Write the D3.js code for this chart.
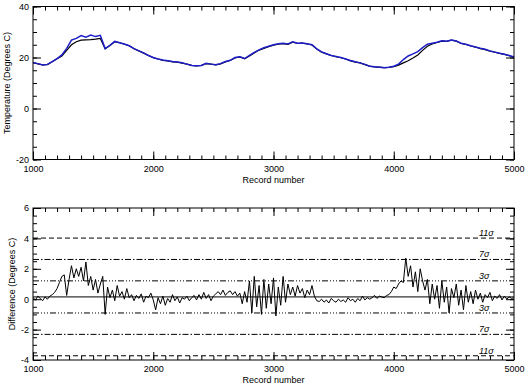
<!DOCTYPE html>
<html>
<head>
<meta charset="utf-8">
<script src="https://cdn.jsdelivr.net/npm/d3@7"></script>
<style>
  body { margin: 0; background: #fff; }
  svg { display: block; font-family: "Liberation Sans", Arial, sans-serif; }
</style>
</head>
<body>
<svg id="chart" width="526" height="386"></svg>
<script>
// record numbers for the temperature traces (every 40 records)
const tempRecords = d3.range(1000, 5001, 40)

// blue trace (drawn on top)
const tempBlue = [
  18.0, 17.6, 17.1, 17.3, 18.4, 19.6, 21.0, 23.6, 26.8, 27.5,
  28.6, 28.0, 28.8, 28.2, 28.7, 23.5, 24.8, 26.3, 25.8, 25.3,
  24.6, 23.5, 22.6, 21.8, 20.8, 20.0, 19.4, 19.0, 18.7, 18.4,
  18.2, 17.9, 17.4, 16.9, 16.8, 16.9, 17.7, 17.4, 17.2, 17.6,
  18.4, 18.9, 20.0, 20.3, 19.6, 20.8, 22.0, 23.0, 23.8, 24.4,
  25.0, 25.4, 25.6, 25.3, 26.2, 25.6, 25.7, 25.4, 25.0, 23.4,
  22.2, 21.5, 20.8, 20.4, 20.0, 19.4, 18.8, 18.3, 17.9, 17.3,
  16.6, 16.4, 16.2, 16.0, 16.2, 16.6, 17.4, 19.2, 20.6, 21.4,
  22.3, 23.9, 25.2, 25.6, 26.0, 26.6, 26.4, 26.9, 26.5, 25.6,
  25.2, 24.6, 24.1, 23.6, 23.2, 22.6, 22.1, 21.7, 21.3, 20.8,
  20.2
]

// black trace (underneath)
const tempBlack = [
  18.0, 17.5, 17.1, 17.2, 18.3, 19.5, 20.6, 22.8, 25.0, 26.2,
  26.8, 26.9, 27.0, 27.2, 27.5, 23.4, 24.7, 26.2, 25.8, 25.2,
  24.6, 23.4, 22.6, 21.7, 20.8, 19.9, 19.4, 18.9, 18.7, 18.3,
  18.2, 17.8, 17.4, 16.9, 16.7, 16.9, 17.6, 17.4, 17.1, 17.5,
  18.3, 18.8, 19.8, 20.2, 19.5, 20.6, 21.8, 22.9, 23.6, 24.2,
  24.8, 25.2, 25.4, 25.1, 26.0, 25.5, 25.6, 25.3, 24.9, 23.3,
  22.1, 21.4, 20.8, 20.3, 19.9, 19.4, 18.7, 18.2, 17.9, 17.2,
  16.6, 16.3, 16.2, 16.0, 16.1, 16.4, 17.0, 17.9, 18.7, 19.8,
  21.0, 22.8, 24.4, 25.3, 25.9, 26.4, 26.3, 26.8, 26.4, 25.5,
  25.1, 24.5, 24.1, 23.5, 23.1, 22.5, 22.1, 21.6, 21.2, 20.7,
  20.1
]

// difference (every 20 records)
const diffRecords = d3.range(1000, 5001, 20)
const diffValues = [
  0.1, -0.05, 0.2, 0.05, -0.1, 0.15, 0.0, 0.2,
  0.3, 0.45, 0.7, 1.1, 1.5,
  1.6, 0.25, 1.3,
  2.2, 1.4, 2.0, 1.5, 2.1, 1.2, 2.45,
  0.9, 1.5, 0.6, 1.3, 0.4, 1.0, 1.5,
  -1.0,
  0.8, 0.1, 0.6, -0.1, 0.9, 0.2, 0.5, 0.0, 0.7, 0.1,
  0.3, -0.1, 0.25, 0.05, 0.35, -0.2, 0.2, 0.1, 0.4, -0.05,
  -0.7, 0.1, -0.3, 0.2, -0.4, 0.05, -0.2, 0.3, -0.1, 0.15, -0.25, 0.1, 0.0, 0.2, -0.1,
  0.1, 0.25, -0.05, 0.3, 0.0, 0.45, 0.05, 0.3, -0.1, 0.2,
  0.35, 0.5, 0.3, 0.6, 0.25, 0.45, 0.55, 0.3, 0.5, 0.2, 0.4, -0.3,
  0.5, -0.2, 1.2, -0.9, 1.5, -0.5, 0.9, -1.0, 1.3, -0.6, 1.0, -0.3, 1.4, -1.1, 0.8, -0.4, 1.5, -0.2,
  1.0, 0.3, 0.8, 0.2, 0.9, 0.4, 0.7, 0.1, 0.6, 0.3, 0.9, 0.2,
  -0.1, -0.15, 0.0, -0.2, -0.05, -0.25, 0.05, -0.1, -0.2, 0.0, -0.15, -0.05, -0.2, 0.1, -0.1, 0.0, -0.2, 0.05, -0.1, 0.2, -0.05, 0.1, 0.0,
  0.1, 0.25, 0.05, 0.2, 0.15, 0.1, 0.25, 0.3,
  0.5, 0.8, 0.7, 1.0, 1.2, 1.1,
  2.7, 1.5,
  2.2, 0.8, 1.8, 0.5, 2.0, 1.2, 0.6,
  1.3, -0.3, 1.0, 0.0, 0.9, -0.6, 1.2, -0.2, 0.8, -0.9, 0.7, 0.1, 1.0, -0.4, 0.6, -0.7, 0.9,
  -0.2, 0.5, -0.3, 0.6, 0.0, 0.4, -0.2, 0.3, 0.1, 0.45, -0.1, 0.2, 0.05, 0.3, -0.05, 0.2, 0.0, 0.15, 0.05, 0.1
]

const diffMean = 0.15
const diffSigma = 0.352
const sigmaLevels = [3, 7, 11]
const sigmaDash = { 3: '6,2,1,2,1,2,1,2', 7: '6,2,1.5,2', 11: '5,3' }

const xTicks = [1000, 2000, 3000, 4000, 5000]
const tempTicks = [-20, 0, 20, 40]
const diffTicks = [-4, -2, 0, 2, 4, 6]

const svg = d3.select('#chart')
const left = 33, right = 514

const x = d3.scaleLinear().domain([1000, 5000]).range([left, right])

function frame(g, y, top, bottom, majorY, minorStep, xLabels) {
  const fs = '9px'
  // minor x ticks, top and bottom
  const minorX = d3.range(1000, 5001, 100)
  g.append('g').attr('transform', `translate(0,${bottom})`)
    .call(d3.axisBottom(x).tickValues(minorX).tickSizeInner(-4).tickSizeOuter(0).tickFormat(''))
  g.append('g').attr('transform', `translate(0,${top})`)
    .call(d3.axisTop(x).tickValues(minorX).tickSizeInner(-4).tickSizeOuter(0).tickFormat(''))
  // major x ticks
  g.append('g').attr('transform', `translate(0,${bottom})`)
    .call(d3.axisBottom(x).tickValues(xLabels).tickSizeInner(-8).tickSizeOuter(0).tickPadding(6).tickFormat(d => String(d)))
  g.append('g').attr('transform', `translate(0,${top})`)
    .call(d3.axisTop(x).tickValues(xLabels).tickSizeInner(-8).tickSizeOuter(0).tickFormat(''))

  const [y0, y1] = y.domain()
  const minorY = d3.range(y0, y1 + 1e-9, minorStep)
  g.append('g').attr('transform', `translate(${left},0)`)
    .call(d3.axisLeft(y).tickValues(minorY).tickSizeInner(-4).tickSizeOuter(0).tickFormat(''))
  g.append('g').attr('transform', `translate(${right},0)`)
    .call(d3.axisRight(y).tickValues(minorY).tickSizeInner(-4).tickSizeOuter(0).tickFormat(''))
  g.append('g').attr('transform', `translate(${left},0)`)
    .call(d3.axisLeft(y).tickValues(majorY).tickSizeInner(-8).tickSizeOuter(0).tickPadding(4).tickFormat(d => String(d)))
  g.append('g').attr('transform', `translate(${right},0)`)
    .call(d3.axisRight(y).tickValues(majorY).tickSizeInner(-8).tickSizeOuter(0).tickFormat(''))

  g.selectAll('.domain').remove()
  g.selectAll('.tick line').attr('stroke', '#000')
  g.selectAll('.tick text').attr('fill', '#000').style('font-size', fs)

  g.append('rect')
    .attr('x', left).attr('y', top)
    .attr('width', right - left).attr('height', bottom - top)
    .attr('fill', 'none').attr('stroke', '#000').attr('stroke-width', 1)
}

// ---- top panel: temperatures
const topT = 6.5, topB = 159.5
const yT = d3.scaleLinear().domain([-20, 40]).range([topB, topT])
const gTop = svg.append('g')

const lineT = d3.line().x((d, i) => x(tempRecords[i])).y(d => yT(d))
gTop.append('path').datum(tempBlack)
  .attr('fill', 'none').attr('stroke', '#000').attr('stroke-width', 1.2).attr('d', lineT)
gTop.append('path').datum(tempBlue)
  .attr('fill', 'none').attr('stroke', '#1e1ec8').attr('stroke-width', 1.5).attr('d', lineT)

frame(gTop, yT, topT, topB, tempTicks, 5, xTicks)

svg.append('text').attr('x', (left + right) / 2).attr('y', 183)
  .attr('text-anchor', 'middle').style('font-size', '9px').text('Record number')
svg.append('text').attr('transform', `translate(10,${(topT + topB) / 2}) rotate(-90)`)
  .attr('text-anchor', 'middle').style('font-size', '9px').text('Temperature (Degrees C)')

// ---- bottom panel: difference
const botT = 208, botB = 360
const yD = d3.scaleLinear().domain([-4, 6]).range([botB, botT])
const gBot = svg.append('g')

// sigma bands
sigmaLevels.forEach(k => {
  [1, -1].forEach(s => {
    const v = diffMean + s * k * diffSigma
    gBot.append('line')
      .attr('x1', left).attr('x2', right).attr('y1', yD(v)).attr('y2', yD(v))
      .attr('stroke', '#000').attr('stroke-width', 1).attr('stroke-dasharray', sigmaDash[k])
    gBot.append('text').attr('x', 479).attr('y', yD(v) - 2)
      .style('font-size', '9px').style('font-style', 'italic')
      .text(k + 'σ')
  })
})

gBot.append('line')
  .attr('x1', left).attr('x2', right).attr('y1', yD(diffMean)).attr('y2', yD(diffMean))
  .attr('stroke', '#000').attr('stroke-width', 1)

const lineD = d3.line().x((d, i) => x(diffRecords[i])).y(d => yD(d))
gBot.append('path').datum(diffValues)
  .attr('fill', 'none').attr('stroke', '#000').attr('stroke-width', 1).attr('d', lineD)

frame(gBot, yD, botT, botB, diffTicks, 0.5, xTicks)

svg.append('text').attr('x', (left + right) / 2).attr('y', 383)
  .attr('text-anchor', 'middle').style('font-size', '9px').text('Record number')
svg.append('text').attr('transform', `translate(15,${(botT + botB) / 2}) rotate(-90)`)
  .attr('text-anchor', 'middle').style('font-size', '9px').text('Difference (Degrees C)')
</script>
</body>
</html>
